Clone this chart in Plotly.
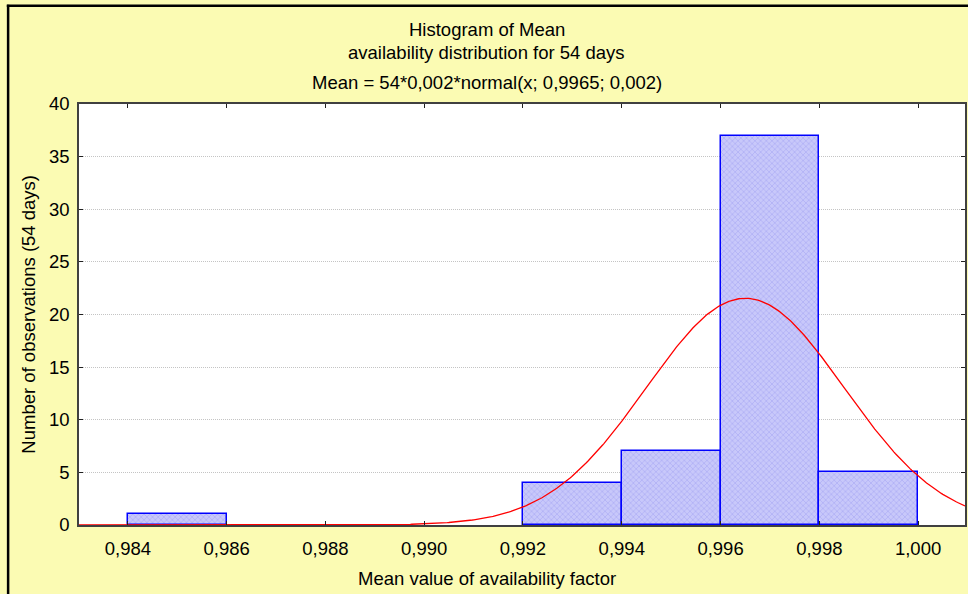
import numpy as np
import plotly.graph_objects as go

# ---- data ----
bin_left = [0.984, 0.986, 0.988, 0.990, 0.992, 0.994, 0.996, 0.998]
counts = [1, 0, 0, 0, 4, 7, 37, 5]
bin_width = 0.002
n_obs = 54
fit_mean = 0.9965
fit_sd = 0.002
x_ticks = [0.984, 0.986, 0.988, 0.990, 0.992, 0.994, 0.996, 0.998, 1.000]
y_ticks = [0, 5, 10, 15, 20, 25, 30, 35, 40]

title_1 = "Histogram of Mean"
title_2 = "availability distribution for 54 days"
title_3 = "Mean = 54*0,002*normal(x; 0,9965; 0,002)"
x_title = "Mean value of availability factor"
y_title = "Number of observations (54 days)"

x_range = [0.98301, 1.00095]

# ---- derived ----
bar_x = [b + bin_width / 2 for b, c in zip(bin_left, counts) if c > 0]
bar_y = [c for c in counts if c > 0]

xc = np.linspace(x_range[0], x_range[1], 600)
yc = n_obs * bin_width * np.exp(-0.5 * ((xc - fit_mean) / fit_sd) ** 2) / (fit_sd * np.sqrt(2 * np.pi))

FONT = "Liberation Sans, Arial, sans-serif"
FS = 18.5

fig = go.Figure()
fig.add_trace(go.Bar(
    x=bar_x, y=bar_y, width=bin_width,
    marker=dict(
        color="#C2C2F8",
        line=dict(color="#0000FF", width=1.5),
        pattern=dict(shape="x", fgcolor="#A0A0F2", bgcolor="#C8C8FA", size=4, solidity=0.4),
    ),
    showlegend=False, hoverinfo="x+y",
))
fig.add_trace(go.Scatter(
    x=xc, y=yc, mode="lines",
    line=dict(color="#FF0000", width=1.3),
    showlegend=False,
))

axis_common = dict(
    showline=True, linecolor="#404040", linewidth=1.5, mirror="ticks",
    ticks="inside", ticklen=4, tickcolor="#202020", tickwidth=1,
    tickfont=dict(family=FONT, size=FS, color="#000000"),
    zeroline=False,
)

fig.update_layout(
    width=968, height=594,
    margin=dict(l=79, r=1, t=104, b=69),
    paper_bgcolor="#FBFBB3",
    plot_bgcolor="#FFFFFF",
    separators=",.",
    bargap=0,
    font=dict(family=FONT, size=FS, color="#000000"),
    xaxis=dict(
        range=x_range, tickvals=x_ticks, tickformat=".3f", showgrid=False,
        ticklabelstandoff=6, layer="above traces",
        **axis_common,
    ),
    yaxis=dict(
        range=[0, 40], tickvals=y_ticks, showgrid=True,
        gridcolor="#C4C4C4", griddash="1px,1px", gridwidth=1,
        ticklabelstandoff=4,
        **axis_common,
    ),
    annotations=[
        dict(text=title_1, x=0.4600, y=1.176, xref="paper", yref="paper",
             showarrow=False, xanchor="center", yanchor="middle", font=dict(size=FS)),
        dict(text=title_2, x=0.4600, y=1.1235, xref="paper", yref="paper",
             showarrow=False, xanchor="center", yanchor="middle", font=dict(size=FS)),
        dict(text=title_3, x=0.4600, y=1.052, xref="paper", yref="paper",
             showarrow=False, xanchor="center", yanchor="middle", font=dict(size=FS)),
        dict(text=x_title, x=0.4600, y=-0.1259, xref="paper", yref="paper",
             showarrow=False, xanchor="center", yanchor="middle", font=dict(size=FS)),
        dict(text=y_title, x=-0.0574, y=0.5, xref="paper", yref="paper", textangle=-90,
             showarrow=False, xanchor="center", yanchor="middle", font=dict(size=FS)),
    ],
    shapes=[
        dict(type="line", xref="paper", yref="paper", x0=-0.0800, x1=-0.0800, y0=1.236, y1=-0.3,
             line=dict(color="#000000", width=2.5)),
        dict(type="line", xref="paper", yref="paper", x0=-0.0815, x1=1.1, y0=1.2335, y1=1.2335,
             line=dict(color="#000000", width=2.5)),
    ],
)

fig.write_html(
    "out.html",
    config={"displayModeBar": False},
    post_script="document.body.style.margin='0';document.body.style.overflow='hidden';",
)
